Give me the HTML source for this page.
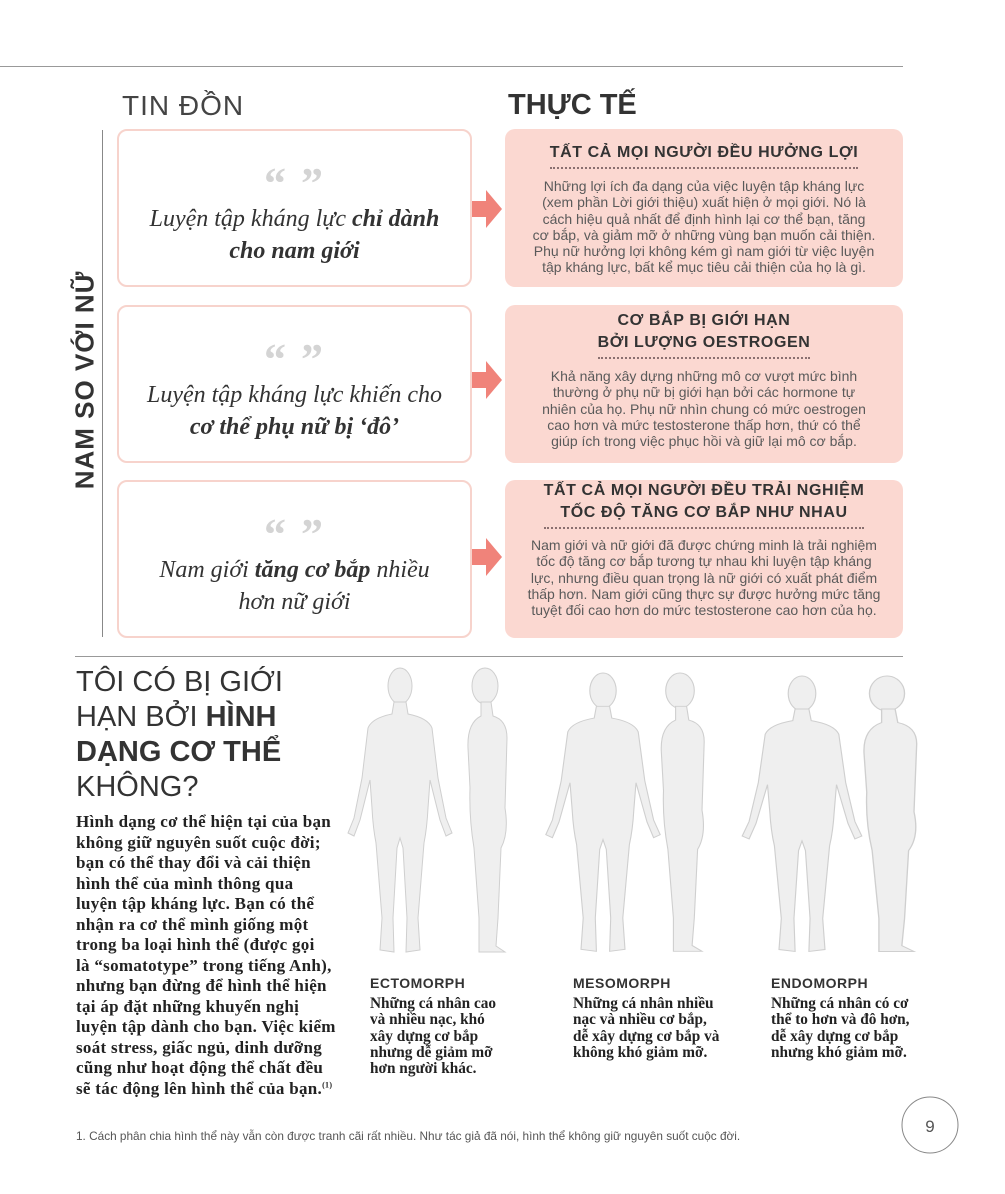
<!DOCTYPE html>
<html><head><meta charset="utf-8"><style>
*{margin:0;padding:0;box-sizing:border-box}
body{width:1005px;height:1194px;background:#fff;position:relative;overflow:hidden;font-family:"Liberation Sans",sans-serif;color:#333}
.abs{position:absolute}
.lbox{position:absolute;left:117px;width:355px;height:158px;border:2px solid #f7d3cc;border-radius:10px;text-align:center}
.q{font-family:"Liberation Serif",serif;font-weight:bold;font-size:44px;color:#d4d4d4;line-height:30px;height:30px;margin-top:38px;letter-spacing:2px}
.lt{font-family:"Liberation Serif",serif;font-style:italic;font-size:24px;line-height:32px;color:#333;margin-top:4px;white-space:nowrap}
.lt b{font-weight:bold}
.rbox{position:absolute;left:505px;width:398px;height:158px;background:#fbd8d1;border-radius:10px;text-align:center}
.rt{font-weight:bold;font-size:16px;letter-spacing:0.6px;color:#333;line-height:22px;display:inline-block;border-bottom:2px dotted #8a7070;padding-bottom:3px;white-space:nowrap}
.rb{font-size:14px;color:#5a5a5a;line-height:16.3px;margin-top:9px;white-space:nowrap}
.h{position:absolute;left:76px;font-size:29px;color:#333;line-height:35px;white-space:nowrap;font-weight:300}
.body{position:absolute;left:76px;top:812px;font-family:"Liberation Serif",serif;font-size:17px;line-height:20.5px;color:#222;white-space:nowrap;font-weight:bold;letter-spacing:0.3px}
.body sup{font-size:8px;line-height:0}
.lab{position:absolute;top:975px;font-weight:bold;font-size:14px;letter-spacing:0.5px;color:#333}
.ld{position:absolute;top:996px;font-family:"Liberation Serif",serif;font-weight:bold;font-size:15.3px;line-height:16.3px;color:#222;white-space:nowrap}
</style></head><body>
<div class="abs" style="left:0;top:66px;width:903px;height:1px;background:#999"></div>
<div class="abs" style="left:122px;top:90px;font-size:28px;letter-spacing:1px;color:#444">TIN ĐỒN</div>
<div class="abs" style="left:508px;top:89px;font-size:29px;font-weight:bold;color:#333">THỰC TẾ</div>
<div class="abs" style="left:102px;top:130px;width:1px;height:507px;background:#888"></div>
<div class="abs" style="left:85px;top:380px;transform:translate(-50%,-50%) rotate(-90deg);font-size:26px;font-weight:bold;white-space:nowrap;letter-spacing:1px;color:#333">NAM SO VỚI NỮ</div>

<div class="lbox" style="top:129px"><div class="q">“ ”</div><div class="lt">Luyện tập kháng lực <b>chỉ dành<br>cho nam giới</b></div></div>
<div class="lbox" style="top:305px"><div class="q">“ ”</div><div class="lt">Luyện tập kháng lực khiến cho<br><b>cơ thể phụ nữ bị ‘đô’</b></div></div>
<div class="lbox" style="top:480px"><div class="q">“ ”</div><div class="lt">Nam giới <b>tăng cơ bắp</b> nhiều<br>hơn nữ giới</div></div>

<svg class="abs" style="left:470px;top:0" width="36" height="640">
<g fill="#f0837a">
<polygon points="2,201 16,201 16,190 32,209 16,228 16,217 2,217"/>
<polygon points="2,372 16,372 16,361 32,380 16,399 16,388 2,388"/>
<polygon points="2,549 16,549 16,538 32,557 16,576 16,565 2,565"/>
</g></svg>

<div class="rbox" style="top:129px"><div class="rt" style="margin-top:13px">TẤT CẢ MỌI NGƯỜI ĐỀU HƯỞNG LỢI</div><div class="rb">Những lợi ích đa dạng của việc luyện tập kháng lực<br>(xem phần Lời giới thiệu) xuất hiện ở mọi giới. Nó là<br>cách hiệu quả nhất để định hình lại cơ thể bạn, tăng<br>cơ bắp, và giảm mỡ ở những vùng bạn muốn cải thiện.<br>Phụ nữ hưởng lợi không kém gì nam giới từ việc luyện<br>tập kháng lực, bất kể mục tiêu cải thiện của họ là gì.</div></div>
<div class="rbox" style="top:305px"><div class="rt" style="margin-top:5px">CƠ BẮP BỊ GIỚI HẠN<br>BỞI LƯỢNG OESTROGEN</div><div class="rb">Khả năng xây dựng những mô cơ vượt mức bình<br>thường ở phụ nữ bị giới hạn bởi các hormone tự<br>nhiên của họ. Phụ nữ nhìn chung có mức oestrogen<br>cao hơn và mức testosterone thấp hơn, thứ có thể<br>giúp ích trong việc phục hồi và giữ lại mô cơ bắp.</div></div>
<div class="rbox" style="top:480px"><div class="rt" style="margin-top:0px">TẤT CẢ MỌI NGƯỜI ĐỀU TRẢI NGHIỆM<br>TỐC ĐỘ TĂNG CƠ BẮP NHƯ NHAU</div><div class="rb" style="margin-top:8px">Nam giới và nữ giới đã được chứng minh là trải nghiệm<br>tốc độ tăng cơ bắp tương tự nhau khi luyện tập kháng<br>lực, nhưng điều quan trọng là nữ giới có xuất phát điểm<br>thấp hơn. Nam giới cũng thực sự được hưởng mức tăng<br>tuyệt đối cao hơn do mức testosterone cao hơn của họ.</div></div>

<div class="abs" style="left:75px;top:656px;width:828px;height:1px;background:#999"></div>
<div class="h" style="top:665px">TÔI CÓ BỊ GIỚI</div>
<div class="h" style="top:700px">HẠN BỞI <b style="font-weight:bold">HÌNH</b></div>
<div class="h" style="top:735px;font-weight:bold">DẠNG CƠ THỂ</div>
<div class="h" style="top:770px">KHÔNG?</div>
<div class="body">Hình dạng cơ thể hiện tại của bạn<br>không giữ nguyên suốt cuộc đời;<br>bạn có thể thay đổi và cải thiện<br>hình thể của mình thông qua<br>luyện tập kháng lực. Bạn có thể<br>nhận ra cơ thể mình giống một<br>trong ba loại hình thể (được gọi<br>là “somatotype” trong tiếng Anh),<br>nhưng bạn đừng để hình thể hiện<br>tại áp đặt những khuyến nghị<br>luyện tập dành cho bạn. Việc kiểm<br>soát stress, giấc ngủ, dinh dưỡng<br>cũng như hoạt động thể chất đều<br>sẽ tác động lên hình thể của bạn.<sup>(1)</sup></div>

<svg class="abs" style="left:0;top:0" width="1005" height="1194">
<defs>
<g id="fr"><ellipse cx="0" cy="18" rx="12" ry="18"/><path d="M-6,34 L6,34 L8,46 Q28,50 32,60 L38,110 L46,150 L52,165 L46,168 L40,152 L30,112 L28,140 Q27,160 24,175 L18,250 L20,282 L6,284 L7,250 L3,180 L0,170 L-3,180 L-7,250 L-6,284 L-20,282 L-18,250 L-24,175 Q-27,160 -28,140 L-30,112 L-40,152 L-46,168 L-52,165 L-46,150 L-38,110 L-32,60 Q-28,50 -8,46 Z"/></g>
<g id="sd"><ellipse cx="0" cy="18" rx="13" ry="18"/><path d="M-4,34 L6,34 L8,48 Q22,52 22,70 L20,140 Q24,165 16,180 L13,250 L11,278 L20,284 L-6,284 L-6,250 L-11,180 Q-16,150 -15,120 L-17,80 Q-18,55 -4,48 Z"/></g>
</defs>
<g fill="#efefef" stroke="#cfcfcf" stroke-width="1">
<use href="#fr" transform="translate(400,668)"/>
<use href="#sd" transform="translate(485,668)"/>
<use href="#fr" transform="translate(603,673) scale(1.1,0.98)"/>
<use href="#sd" transform="translate(680,673) scale(1.1,0.98)"/>
<use href="#fr" transform="translate(802,676) scale(1.15,0.97)"/>
<use href="#sd" transform="translate(887,676) scale(1.35,0.97)"/>
</g>
<circle cx="930" cy="1125" r="28" fill="none" stroke="#888" stroke-width="1"/>
<text x="930" y="1132" text-anchor="middle" font-family="Liberation Sans" font-size="17" fill="#555">9</text>
</svg>

<div class="lab" style="left:370px">ECTOMORPH</div>
<div class="lab" style="left:573px">MESOMORPH</div>
<div class="lab" style="left:771px">ENDOMORPH</div>
<div class="ld" style="left:370px">Những cá nhân cao<br>và nhiều nạc, khó<br>xây dựng cơ bắp<br>nhưng dễ giảm mỡ<br>hơn người khác.</div>
<div class="ld" style="left:573px">Những cá nhân nhiều<br>nạc và nhiều cơ bắp,<br>dễ xây dựng cơ bắp và<br>không khó giảm mỡ.</div>
<div class="ld" style="left:771px">Những cá nhân có cơ<br>thể to hơn và đô hơn,<br>dễ xây dựng cơ bắp<br>nhưng khó giảm mỡ.</div>

<div class="abs" style="left:76px;top:1129px;font-size:11.8px;color:#555;white-space:nowrap">1. Cách phân chia hình thể này vẫn còn được tranh cãi rất nhiều. Như tác giả đã nói, hình thể không giữ nguyên suốt cuộc đời.</div>
</body></html>
